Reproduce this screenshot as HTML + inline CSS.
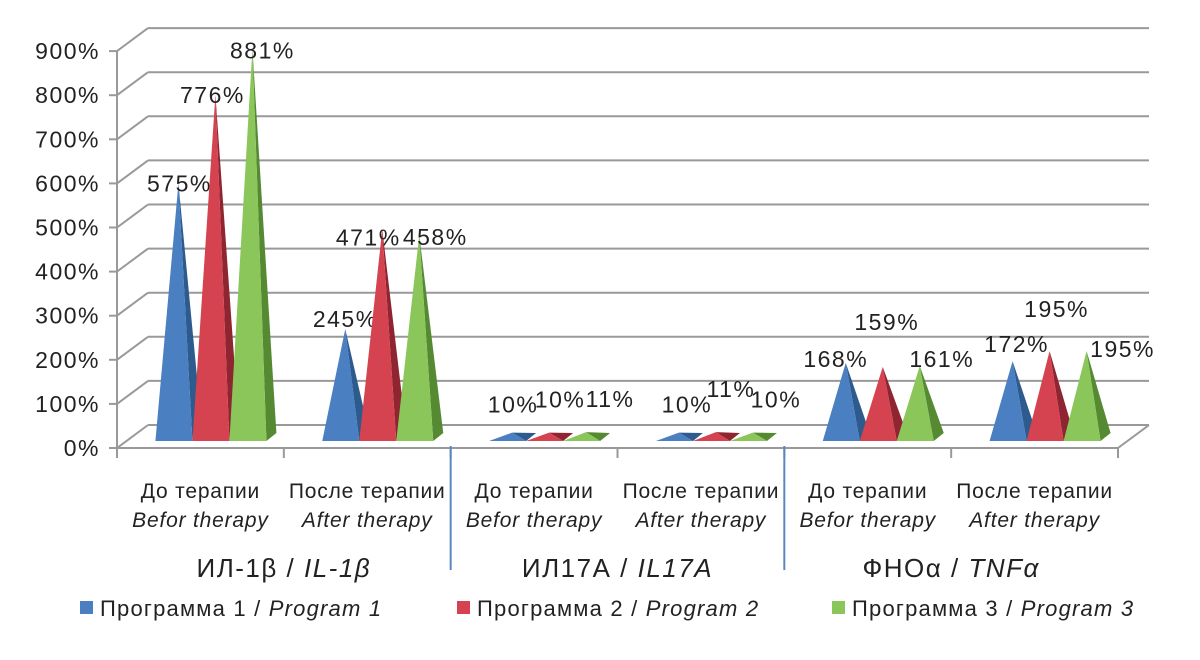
<!DOCTYPE html>
<html><head><meta charset="utf-8"><style>
body{margin:0;background:#fff}
svg text{font-family:"Liberation Sans",sans-serif;fill:#222}
</style></head><body>
<svg id="c" width="1200" height="655" xmlns="http://www.w3.org/2000/svg"></svg>
<script>
const categories=["До терапии|Befor therapy","После терапии|After  therapy","До терапии|Befor therapy","После терапии|After  therapy","До терапии|Befor therapy","После терапии|After  therapy"];
const groups=["ИЛ-1β|IL-1β","ИЛ17А|IL17A","ФНОα|TNFα"];
const series1=[575,245,10,10,168,172];
const series2=[776,471,10,11,159,195];
const series3=[881,458,11,10,161,195];
const seriesNames=["Программа 1|Program 1","Программа 2|Program 2","Программа 3|Program 3"];
const ticks=[0,100,200,300,400,500,600,700,800,900];

const NS="http://www.w3.org/2000/svg";
const svg=document.getElementById('c');
function mk(t,a,p){const e=document.createElementNS(NS,t);for(const k in a)e.setAttribute(k,a[k]);(p||svg).appendChild(e);return e;}
const X0=117,X1=1118,Y0=448,PX=44.1,DX=31,DY=-23;
const yF=v=>Y0-v*PX/100;
const catW=(X1-X0)/categories.length;
const xC=i=>X0+catW*(i+0.5);
const wall=mk('g',{});


mk('line',{x1:X0,y1:yF(0),x2:X0,y2:yF(900),stroke:'#999','stroke-width':2},wall);
ticks.forEach(t=>{
  const y=yF(t);
  mk('line',{x1:X0,y1:y,x2:X0+DX,y2:y+DY,stroke:'#999','stroke-width':2},wall);
  mk('line',{x1:X0+DX,y1:y+DY,x2:X1+DX,y2:y+DY,stroke:'#999','stroke-width':2},wall);
  mk('line',{x1:X0-8,y1:y,x2:X0,y2:y,stroke:'#999','stroke-width':2},wall);
  const tx=mk('text',{x:100,y:y+8,'text-anchor':'end','font-size':23,'letter-spacing':1.5});
  tx.textContent=t+'%';
  
  
});
mk('line',{x1:X0,y1:Y0,x2:X1,y2:Y0,stroke:'#999','stroke-width':2},wall);
mk('line',{x1:X1,y1:Y0,x2:X1+DX,y2:Y0+DY,stroke:'#999','stroke-width':2},wall);
for(let i=0;i<=categories.length;i++){const x=X0+catW*i;mk('line',{x1:x,y1:Y0,x2:x,y2:Y0+10,stroke:'#999','stroke-width':2},wall);}
[2,4].forEach(i=>{const x=X0+catW*i;const l=mk('line',{x1:x,y1:446,x2:x,y2:570,stroke:'#5b87c0','stroke-width':2});
});
const colors=[["#4a7fc1","#2d5b8e"],["#d4434f","#8e2530"],["#8bc65a","#558a33"]];
const allSeries=[series1,series2,series3];
const offs=[[[1,8],[-3,8],[10,10]],[[0,-2],[-14,16],[16,10]],[[1,-20],[11,-25],[24,-25]],[[8,-20],[15,-35],[23,-25]],[[-10,4],[4,-37],[22,1]],[[4,-9],[7,-34],[36,6]]];
const YB=441,W=37;
categories.forEach((c,i)=>{
  allSeries.forEach((s,k)=>{
    const x0=xC(i)-45+k*W, v=s[i];
    const ax=x0+23, ay=YB-4-v*PX/100;
    const g=mk('g',{});
    
    
    mk('polygon',{points:`${x0+W},${YB} ${x0+W+10},${YB-8} ${ax},${ay}`,fill:colors[k][1]},g);
    mk('polygon',{points:`${x0},${YB} ${x0+W},${YB} ${ax},${ay}`,fill:colors[k][0]},g);
    const o=offs[i][k];
    const t=mk('text',{x:ax+o[0],y:ay+o[1],'text-anchor':'middle','font-size':23,'letter-spacing':1.5});
    t.textContent=v+'%';
    
    
  });
  const [ru,en]=c.split('|');
  const t1=mk('text',{x:xC(i),y:498,'text-anchor':'middle','font-size':21,'letter-spacing':0.8});t1.textContent=ru;
  
  const t2=mk('text',{x:xC(i),y:527,'text-anchor':'middle','font-size':21,'font-style':'italic','letter-spacing':0.8});t2.textContent=en;
  
});
groups.forEach((g,i)=>{
  const [ru,en]=g.split('|');
  const t=mk('text',{x:X0+catW*(2*i+1),y:577,'text-anchor':'middle','font-size':26,'letter-spacing':1.5});
  
  const a=mk('tspan',{},t);a.textContent=ru+' / ';
  const b=mk('tspan',{'font-style':'italic'},t);b.textContent=en;
});
const lx=[80,457,832];
seriesNames.forEach((n,k)=>{
  const g=mk('g',{});
  
  mk('rect',{x:lx[k],y:601,width:13,height:13,fill:colors[k][0]},g);
  const [ru,en]=n.split('|');
  const t=mk('text',{x:lx[k]+20,y:616,'font-size':22,'letter-spacing':1.2},g);
  const a=mk('tspan',{},t);a.textContent=ru+' / ';
  const b=mk('tspan',{'font-style':'italic'},t);b.textContent=en;
});
</script>
</body></html>
